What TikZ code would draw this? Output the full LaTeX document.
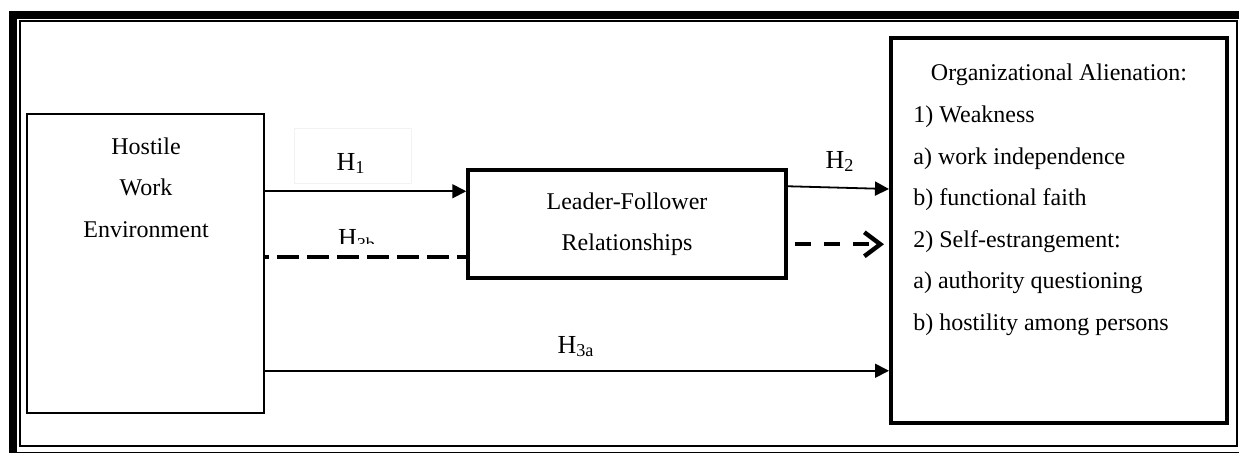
\documentclass[tikz,border=0pt]{standalone}
\usepackage{fontspec}
\setmainfont{Liberation Serif}
\usetikzlibrary{arrows.meta,calc}

\begin{document}
\begin{tikzpicture}[x=0.5pt, y=-0.5pt,
  box/.style={draw, line width=0.75pt, inner sep=0pt},
  thickbox/.style={draw, line width=1.75pt, inner sep=0pt},
  body/.style={font=\fontsize{12}{20.75}\selectfont, inner sep=0pt},
  hyp/.style={font=\fontsize{13}{15}\selectfont, inner sep=0pt, anchor=base},
  solidarrow/.style={line width=0.9pt, -{Triangle[length=7pt, width=7pt]}},
  dashline/.style={line width=2.2pt, dash pattern=on 11pt off 4pt, dash phase=9pt},
  dasharrow/.style={line width=2.2pt, dash pattern=on 8pt off 6.5pt, -{Straight Barb[length=8pt, width=12pt]}}]
\useasboundingbox (0,0) rectangle (1239,452);
\clip (0,0) rectangle (1239,452);
% Frame
\draw[line width=4pt] (12.5,14.5) rectangle (1244,456);
\draw[line width=0.75pt] (20,21) rectangle (1237,446);
% Boxes
\node[box, minimum width=118.5pt, minimum height=149.5pt] (hwe) at (145.5,263.5) {};
\node[thickbox, body, minimum width=159pt, minimum height=54pt, align=center] (lfr) at (627,224) {Leader-Follower\\Relationships};
\node[thickbox, line width=2pt, minimum width=168pt, minimum height=192.5pt] (oa) at (1059,230.5) {};
% Texts
\node[body, anchor=north, align=center] (hwetext) at (146,137) {Hostile\\Work\\Environment};
\node[body, anchor=base] (oatitle) at (1059,80) {Organizational Alienation:};
\node[body, anchor=north west, align=left] (oalist) at (913,105.5) {1) Weakness\\a) work independence\\b) functional faith\\2) Self-estrangement:\\a) authority questioning\\b) hostility among persons};
% Connectors
\coordinate (h1s) at ($(hwe.north east)+(0,78)$);
\draw[solidarrow] (h1s) -- (h1s -| lfr.west);
\coordinate (h3bs) at ($(hwe.north east)+(0,144)$);
\draw[dashline] (h3bs) -- (h3bs -| lfr.west);
\coordinate (h2s) at ($(lfr.north east)+(0,18)$);
\draw[solidarrow] (h2s) -- ($(oa.north west)+(0,153)$);
\coordinate (h3s) at ($(lfr.north east)+(0,76)$);
\draw[dasharrow, shorten <=3.5pt, shorten >=2.5pt] (h3s) -- (h3s -| oa.west);
\coordinate (h3as) at ($(hwe.south east)+(0,-43)$);
\draw[solidarrow] (h3as) -- (h3as -| oa.west);
% Labels
\draw[black!5] (294,128) rectangle (411,183);
\node[hyp] (lh1) at (351,170) {H\textsubscript{1}};
\node[hyp] (lh2) at (840,168) {H\textsubscript{2}};
\node[hyp] (lh3a) at (576,353) {H\textsubscript{3a}};
\begin{scope}
\clip (300,215) rectangle (420,243);
\node[hyp] (lh3b) at (357,246) {H\textsubscript{3b}};
\end{scope}
\end{tikzpicture}
\end{document}
